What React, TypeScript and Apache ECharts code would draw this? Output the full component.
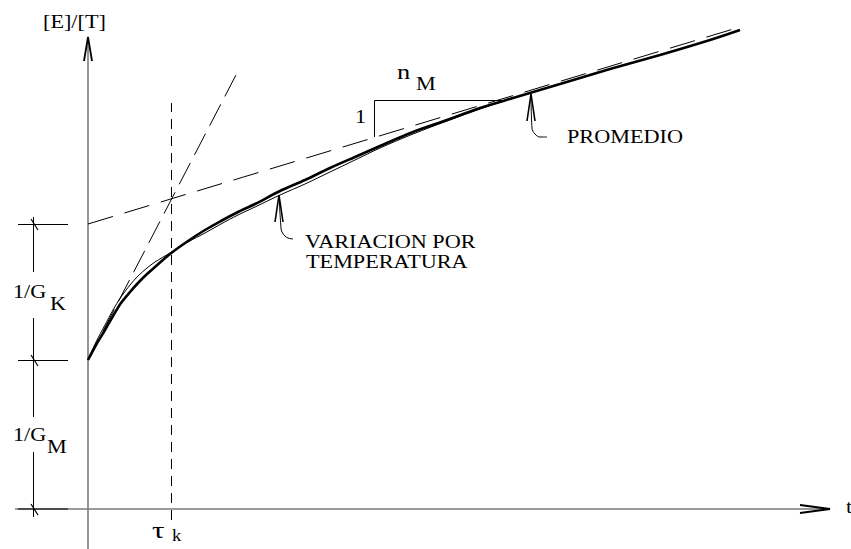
import React, { useEffect, useRef } from "react";
import * as echarts from "echarts";

// Diagram geometry in data units (t horizontal, [E]/[T] vertical)
const averageCurve: [number, number][] = [
  [0, 149], [8, 164], [17, 179], [25, 193], [33, 206], [42, 217], [50, 226], [59, 235],
  [67, 242], [82, 255], [100, 268], [117, 279], [133, 288], [150, 297], [167, 305],
  [192, 318], [217, 329], [242, 341], [267, 352], [292, 363], [325, 377], [359, 389],
  [392, 401], [425, 411], [472, 425], [522, 440], [572, 454], [622, 469], [652, 479],
];
const temperatureCurve: [number, number][] = [
  [0, 149], [8, 167], [17, 184], [25, 199], [33, 212], [42, 224], [50, 233], [59, 241],
  [67, 247], [82, 256], [100, 267], [117, 276], [133, 285], [150, 294], [167, 302],
  [192, 314], [217, 325], [242, 337], [267, 349], [292, 361], [325, 375], [359, 388],
  [392, 400], [425, 411], [472, 425], [522, 440], [572, 454], [622, 469], [652, 479],
];
const asymptoteLine: [number, number][] = [[0, 285], [652, 482]];
const initialSlopeLine: [number, number][] = [[0, 149], [149, 436]];
const tauLine: [number, number][] = [[83.5, -11], [83.5, 406]];
const slopeTriangle: [number, number][] = [[417, 408.5], [286.5, 408.5], [286.5, 372]];

const yAxisLine: [number, number][] = [[0, -40], [0, 472]];
const yAxisArrow: [number, number][] = [[-4, 448], [0, 472], [4, 448]];
const xAxisLine: [number, number][] = [[-73, 0], [742, 0]];
const xAxisArrow: [number, number][] = [[712, 4], [742, 0], [712, -4]];

const dimensionSegments: [number, number][][] = [
  [[-54.5, 292], [-54.5, 237]],
  [[-54.5, 191], [-54.5, 92]],
  [[-54.5, 57], [-54.5, -8]],
];
const dimensionTicks: [number, number][][] = [
  [[-70, 284.5], [-20, 284.5]],
  [[-70, 148.5], [-20, 148.5]],
  [[-70, 0], [-20, 0]],
];
const dimensionSlashes: [number, number][][] = [
  [[-57, 290], [-50, 279]],
  [[-57, 154], [-50, 143]],
  [[-57, 5], [-50, -6]],
];

const promedioArrowHead: [number, number][] = [[439, 388], [443, 415], [447, 388]];
const promedioArrowStem: [number, number][] = [[443, 415], [444, 381], [447, 375], [452, 372], [459, 372]];
const variacionArrowHead: [number, number][] = [[187, 287], [191, 314], [195, 287]];
const variacionArrowStem: [number, number][] = [[191, 314], [193, 281], [194, 277], [197, 273], [200, 271], [205, 270]];

const FONT = "Liberation Serif";

function lineSeries(data: [number, number][], width: number, color: string, type: any = "solid", smooth: number | boolean = false) {
  return {
    type: "line",
    data,
    showSymbol: false,
    symbol: "none",
    smooth,
    silent: true,
    lineStyle: { width, color, type, cap: "butt" },
    z: 2,
  };
}

function txt(text: string, x: number, y: number, size = 19, scaleX = 1.17) {
  return {
    type: "text",
    x,
    y,
    scaleX,
    silent: true,
    style: {
      text,
      fontFamily: FONT,
      fontSize: size,
      fill: "#000",
      align: "left",
      verticalAlign: "middle",
    },
  };
}

export default function App() {
  const ref = useRef<HTMLDivElement>(null);
  useEffect(() => {
    if (!ref.current) return;
    const chart = echarts.init(ref.current, undefined, { renderer: "svg" });
    const axisColor = "#7a7a7a";
    const series: any[] = [
      lineSeries(yAxisLine, 1.6, axisColor),
      lineSeries(xAxisLine, 1.6, axisColor),
      lineSeries(yAxisArrow, 1.8, "#000"),
      lineSeries(xAxisArrow, 1.8, "#000"),
      ...dimensionSegments.map((d) => lineSeries(d, 1, "#000")),
      ...dimensionTicks.map((d) => lineSeries(d, 1, "#000")),
      ...dimensionSlashes.map((d) => lineSeries(d, 1.2, "#000")),
      lineSeries(asymptoteLine, 1, "#000", [26, 12]),
      lineSeries(initialSlopeLine, 1, "#000", [24, 9]),
      lineSeries(tauLine, 1, "#000", [10, 7]),
      lineSeries(slopeTriangle, 1, "#000"),
      lineSeries(temperatureCurve, 1, "#000", "solid", 0.3),
      lineSeries(averageCurve, 2.6, "#000", "solid", 0.3),
      lineSeries(promedioArrowHead, 1.6, "#000"),
      lineSeries(promedioArrowStem, 1, "#000", "solid", 0.4),
      lineSeries(variacionArrowHead, 1.6, "#000"),
      lineSeries(variacionArrowStem, 1, "#000", "solid", 0.4),
    ];
    chart.setOption({
      animation: false,
      backgroundColor: "#fff",
      grid: { left: 15, right: 0, top: 0, bottom: 0 },
      xAxis: { type: "value", min: -73, max: 763, show: false },
      yAxis: { type: "value", min: -40, max: 509, show: false },
      series,
      graphic: [
        txt("[E]/[T]", 43, 22),
        txt("1/G", 13, 292),
        txt("K", 50, 304),
        txt("1/G", 13, 435),
        txt("M", 47, 447),
        txt("τ", 152, 530, 24, 1.3),
        txt("k", 172, 535, 17, 1.1),
        txt("1", 355, 117),
        txt("n", 397, 71, 22, 1.2),
        txt("M", 416, 84),
        txt("PROMEDIO", 567, 137),
        txt("VARIACION POR", 305, 242),
        txt("TEMPERATURA", 306, 262),
        txt("t", 846, 507),
      ],
    });
    return () => chart.dispose();
  }, []);
  return (
    <div
      ref={ref}
      style={{ position: "fixed", left: 0, top: 0, width: 851, height: 549, background: "#fff" }}
    />
  );
}
